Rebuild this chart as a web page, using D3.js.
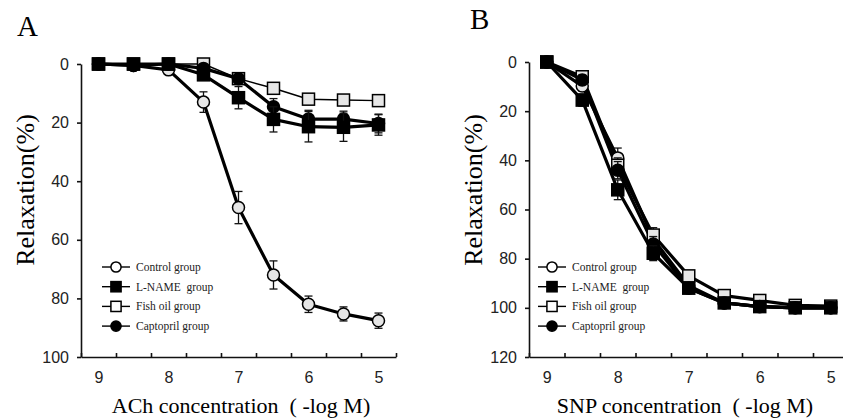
<!DOCTYPE html>
<html>
<head>
<meta charset="utf-8">
<script src="https://cdn.jsdelivr.net/npm/d3@7"></script>
<style>
  body { margin: 0; background: #fff; }
  svg { display: block; font-family: "Liberation Serif", "Times New Roman", serif; }
  text { white-space: pre; }
</style>
</head>
<body>
<div id="chart"></div>
<script>
const WIDTH = 843;
const HEIGHT = 419;

// -log M doses
const doses = [9, 8.5, 8, 7.5, 7, 6.5, 6, 5.5, 5];
const xTickLabels = [9, 8, 7, 6, 5];
const groupNames = ["Control group", "L-NAME  group", "Fish oil group", "Captopril group"];

// panel A: ACh
const achControl = [0, 0.5, 2, 13, 49, 72, 82, 85.3, 87.6];
const achControlErr = [0, 0, 0, 3.5, 5.5, 4.8, 2.8, 2.4, 2.6];
const achLname = [0, 0, 0, 3.7, 11.5, 18.9, 21.4, 21.6, 20.8];
const achLnameErr = [0, 0, 0, 1, 3.8, 4.3, 5.2, 4.8, 3.5];
const achFish = [0, 0, 0, 0, 5, 8.3, 12, 12.3, 12.5];
const achFishErr = [0, 0, 0, 0, 1, 1, 1.8, 1.7, 1.8];
const achCapto = [0, 0.5, 0, 1.5, 5, 14.6, 18.8, 18.8, 20.3];
const achCaptoErr = [0, 0, 0, 0.8, 1, 2.8, 3, 2.7, 3.2];

// panel B: SNP
const snpControl = [0, 9.8, 39, 72, 91, 98, 99.5, 100, 100];
const snpControlErr = [0, 2, 4, 3, 1.5, 1, 0.8, 0.8, 0.8];
const snpLname = [0, 15.5, 52, 77.8, 92, 98, 99.5, 100, 100];
const snpLnameErr = [0, 2.5, 4, 3, 1.5, 1, 0.8, 0.8, 0.8];
const snpFish = [0, 6, 42, 70.4, 87, 95, 97, 99, 99.3];
const snpFishErr = [0, 2, 3, 3, 1.2, 1, 0.8, 0.6, 0.6];
const snpCapto = [0, 7.3, 44, 74, 92, 98, 99.5, 100, 100];
const snpCaptoErr = [0, 2, 3.5, 3, 1.5, 1, 0.8, 0.8, 0.8];

const svg = d3.select("#chart").append("svg")
    .attr("width", WIDTH)
    .attr("height", HEIGHT);

function makeSeries(vals, errs) {
  return doses.map((d, i) => ({x: d, y: vals[i], e: errs[i]}));
}

function drawPanel(cfg) {
  let xScale = d3.scaleLinear().domain([9.25, 4.75]).range(cfg.xRange);
  let yScale = d3.scaleLinear().domain([0, cfg.yMax]).range(cfg.yRange);
  let g = svg.append("g");
  let x0 = cfg.xRange[0];
  let yBottom = cfg.yRange[1];

  // y axis
  let yAxis = d3.axisLeft(yScale)
      .tickValues(d3.range(0, cfg.yMax + 1, 20))
      .tickSize(4)
      .tickSizeOuter(0)
      .tickPadding(8);
  let ya = g.append("g")
      .attr("transform", "translate(" + x0 + ",0)")
      .call(yAxis);
  ya.selectAll("text").style("font-size", "16px").attr("fill", "#222");

  // x axis: inward ticks between labels
  let tickPos = d3.range(0, 10).map(i => 9.25 - i * 0.5);
  let xAxis = d3.axisBottom(xScale)
      .tickValues(tickPos)
      .tickSize(-4)
      .tickSizeOuter(0)
      .tickFormat("");
  g.append("g")
      .attr("transform", "translate(0," + yBottom + ")")
      .call(xAxis);
  let xLab = d3.axisBottom(xScale)
      .tickValues(xTickLabels)
      .tickSize(0)
      .tickPadding(15)
      .tickFormat(d3.format("d"));
  let xl = g.append("g")
      .attr("transform", "translate(0," + yBottom + ")")
      .call(xLab);
  xl.select(".domain").remove();
  xl.selectAll("text").style("font-size", "16px").attr("fill", "#222");

  g.selectAll(".domain, .tick line").attr("stroke", "#111").attr("stroke-width", 1.6);

  // titles
  g.append("text")
      .attr("x", cfg.letterX).attr("y", cfg.letterY)
      .style("font-size", "29px")
      .text(cfg.letter);
  g.append("text")
      .attr("transform", "translate(" + cfg.yTitleX + ",190) rotate(-90)")
      .attr("text-anchor", "middle")
      .style("font-size", "26px")
      .text("Relaxation(%)");
  g.append("text")
      .attr("x", cfg.xTitleX).attr("y", 413)
      .attr("text-anchor", "middle")
      .style("font-size", "22px")
      .text(cfg.xTitle);

  let line = d3.line().x(d => xScale(d.x)).y(d => yScale(d.y));

  // lines first
  cfg.series.forEach(s => {
    g.append("path")
        .datum(s.data)
        .attr("fill", "none")
        .attr("stroke", "#000")
        .attr("stroke-width", s.lw)
        .attr("stroke-linejoin", "round")
        .attr("d", line);
  });

  // error bars + markers
  cfg.series.forEach(s => {
    let eb = g.append("g");
    s.data.filter(d => d.e > 0).forEach(d => {
      let cx = xScale(d.x);
      let y1 = yScale(d.y - d.e), y2 = yScale(d.y + d.e);
      eb.append("line").attr("x1", cx).attr("x2", cx).attr("y1", y1).attr("y2", y2)
          .attr("stroke", "#111").attr("stroke-width", 1.3);
      [y1, y2].forEach(yy => {
        eb.append("line").attr("x1", cx - 4).attr("x2", cx + 4).attr("y1", yy).attr("y2", yy)
            .attr("stroke", "#111").attr("stroke-width", 1.3);
      });
    });
    drawMarkers(g, s.data.map(d => [xScale(d.x), yScale(d.y)]), s.shape, s.fill);
  });

  // legend
  groupNames.forEach((name, i) => {
    let s = cfg.series.find(t => t.name === name);
    let ly = 267 + i * 19.7;
    g.append("line")
        .attr("x1", cfg.legendX).attr("x2", cfg.legendX + 28)
        .attr("y1", ly).attr("y2", ly)
        .attr("stroke", "#000").attr("stroke-width", 1.4);
    drawMarkers(g, [[cfg.legendX + 14, ly]], s.shape, s.fill === "#000" ? "#000" : "#fff", 0.85);
    g.append("text")
        .attr("x", cfg.legendX + 34).attr("y", ly + 4)
        .style("font-size", "11.5px")
        .attr("fill", "#222")
        .text(name);
  });
}

function drawMarkers(g, pts, shape, fill, scale) {
  scale = scale || 1;
  pts.forEach(p => {
    if (shape === "square") {
      let s = 12 * scale;
      g.append("rect")
          .attr("x", p[0] - s / 2).attr("y", p[1] - s / 2)
          .attr("width", s).attr("height", s)
          .attr("fill", fill).attr("stroke", "#000").attr("stroke-width", 1.5);
    } else {
      g.append("circle")
          .attr("cx", p[0]).attr("cy", p[1]).attr("r", 6 * scale)
          .attr("fill", fill).attr("stroke", "#000").attr("stroke-width", 1.5);
    }
  });
}

drawPanel({
  letter: "A", letterX: 17, letterY: 36,
  xRange: [81, 396], yRange: [64, 357], yMax: 100,
  yTitleX: 34, xTitleX: 241,
  xTitle: "ACh concentration  ( -log M)",
  legendX: 102,
  series: [
    {name: "Control group", data: makeSeries(achControl, achControlErr), shape: "circle", fill: "#e6e6e6", lw: 3.2},
    {name: "Fish oil group", data: makeSeries(achFish, achFishErr), shape: "square", fill: "#e6e6e6", lw: 1.5},
    {name: "Captopril group", data: makeSeries(achCapto, achCaptoErr), shape: "circle", fill: "#000", lw: 3.2},
    {name: "L-NAME  group", data: makeSeries(achLname, achLnameErr), shape: "square", fill: "#000", lw: 3.2}
  ]
});

drawPanel({
  letter: "B", letterX: 470, letterY: 29,
  xRange: [529, 848.5], yRange: [62, 357], yMax: 120,
  yTitleX: 482, xTitleX: 685,
  xTitle: "SNP concentration  ( -log M)",
  legendX: 538,
  series: [
    {name: "Control group", data: makeSeries(snpControl, snpControlErr), shape: "circle", fill: "#e6e6e6", lw: 3.2},
    {name: "Fish oil group", data: makeSeries(snpFish, snpFishErr), shape: "square", fill: "#e6e6e6", lw: 3.2},
    {name: "Captopril group", data: makeSeries(snpCapto, snpCaptoErr), shape: "circle", fill: "#000", lw: 3.2},
    {name: "L-NAME  group", data: makeSeries(snpLname, snpLnameErr), shape: "square", fill: "#000", lw: 3.2}
  ]
});
</script>
</body>
</html>
